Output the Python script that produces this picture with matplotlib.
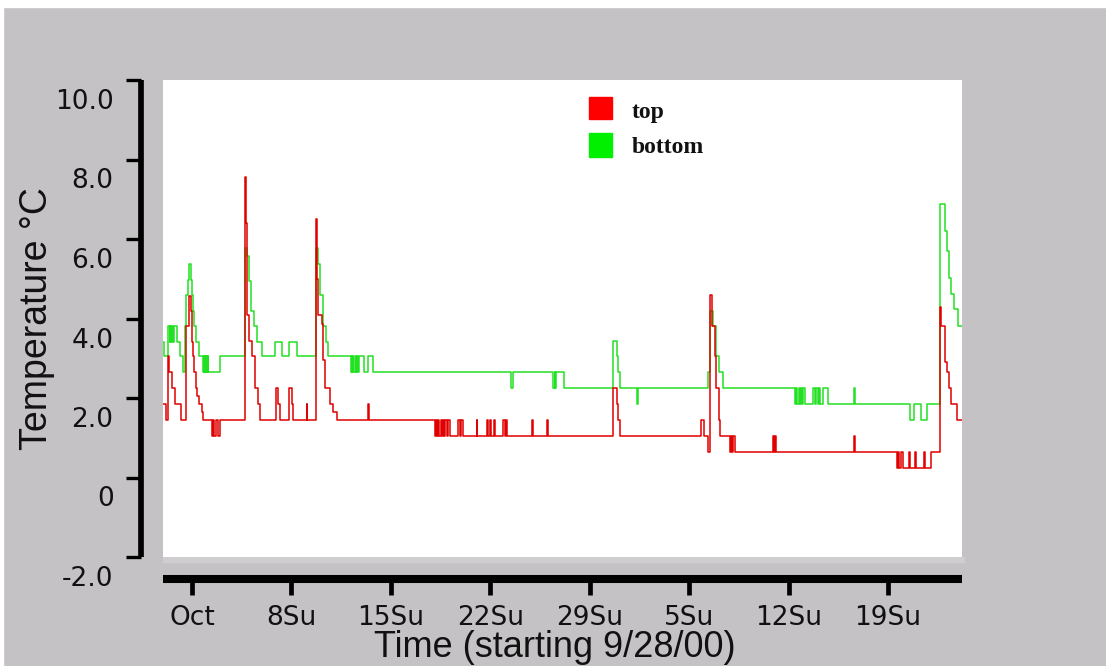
import matplotlib
matplotlib.use("Agg")
import matplotlib.pyplot as plt
from matplotlib.patches import Rectangle
import matplotlib.transforms as mtransforms

# ---------------- data (days since 9/28/00, temperature in degC) ----------------
bottom_days = [0.96, 1.03, 1.33, 1.42, 1.47, 1.55, 1.60, 1.68, 1.74, 1.92, 2.15, 2.34,
               2.51, 2.60, 2.70, 2.81, 2.93, 3.00, 3.07, 3.14, 3.26, 3.50, 3.80, 3.84,
               3.88, 3.92, 3.96, 4.00, 4.04, 4.10, 4.14, 4.97, 6.73, 6.88, 7.00, 7.18,
               7.36, 7.55, 7.92, 8.85, 9.31, 9.85, 10.42, 11.74, 11.88, 12.04, 12.22,
               12.46, 12.60, 14.17, 14.24, 14.30, 14.36, 14.44, 14.52, 14.58, 14.64,
               14.71, 14.78, 15.11, 15.42, 15.72, 25.46, 25.58, 28.45, 28.53, 28.58,
               28.65, 29.20, 32.67, 32.91, 33.02, 33.14, 34.31, 34.43, 39.36, 39.48,
               39.71, 39.90, 40.07, 40.37, 45.47, 45.55, 45.62, 45.70, 45.80, 45.88,
               45.95, 46.05, 46.17, 46.75, 46.85, 46.95, 47.05, 47.15, 47.22, 47.40,
               47.75, 49.62, 49.66, 53.52, 53.80, 54.31, 54.74, 55.68, 55.98, 56.15,
               56.26, 56.45, 56.62, 56.92, 57.21]
bottom_vals = [3.42, 3.05, 3.81, 3.42, 3.81, 3.42, 3.81, 3.42, 3.81, 3.42, 3.05, 2.65,
               3.81, 4.58, 4.97, 5.36, 4.97, 4.58, 4.20, 3.81, 3.42, 3.05, 2.65, 3.05,
               2.65, 3.05, 2.65, 3.05, 2.65, 3.05, 2.65, 3.05, 5.78, 5.56, 4.94, 4.20,
               3.81, 3.42, 3.05, 3.42, 3.05, 3.42, 3.05, 5.78, 5.36, 4.58, 3.81,
               3.42, 3.05, 2.65, 3.05, 2.65, 3.05, 2.65, 3.05, 2.65, 3.05,
               2.65, 3.05, 2.65, 3.05, 2.65, 2.25, 2.65, 2.25, 2.65, 2.25,
               2.65, 2.25, 3.43, 3.05, 2.65, 2.25, 1.85, 2.25, 2.65, 4.20,
               3.82, 3.05, 2.65, 2.25, 1.85, 2.25, 1.85, 2.25, 1.85, 2.25,
               1.85, 2.25, 1.85, 2.25, 1.85, 2.25, 1.85, 2.25, 1.85, 2.25,
               1.85, 2.25, 1.85, 1.45, 1.85, 1.45, 1.85, 6.87, 6.19, 5.69,
               5.03, 4.61, 4.24, 3.82, 3.82]

top_days = [0.96, 1.17, 1.33, 1.40, 1.57, 1.80, 2.20, 2.58, 2.80, 2.90, 2.98, 3.05,
            3.12, 3.28, 3.38, 3.52, 3.68, 3.80, 4.40, 4.50, 4.58, 4.70, 4.80, 4.97,
            6.73, 6.78, 6.86, 6.90, 7.04, 7.20, 7.44, 7.67, 7.79, 8.92, 9.08, 9.20,
            9.85, 10.02, 10.14, 11.08, 11.12, 11.74, 11.82, 11.90, 12.13, 12.25,
            12.37, 12.72, 12.95, 13.19, 15.42, 15.47, 20.11, 20.18, 20.26, 20.34,
            20.42, 20.50, 20.58, 20.66, 20.74, 20.84, 20.94, 21.05, 21.17, 21.76,
            21.85, 21.95, 22.11, 23.05, 23.10, 23.75, 23.85, 23.95, 24.05, 24.25,
            24.34, 24.93, 25.02, 25.10, 25.16, 26.92, 26.98, 27.98, 28.09, 32.67,
            32.91, 33.02, 33.14, 38.82, 39.06, 39.36, 39.48, 39.64, 39.79, 39.90,
            40.07, 40.18, 40.89, 40.95, 41.02, 41.10, 41.24, 43.89, 43.95, 44.07,
            44.13, 49.62, 49.66, 52.63, 52.72, 52.78, 52.95, 53.05, 53.45, 53.55,
            53.90, 54.00, 54.50, 54.60, 55.00, 55.68, 55.76, 55.98, 56.15, 56.26,
            56.45, 56.85, 57.21]
top_vals = [1.85, 1.45, 3.05, 2.65, 2.25, 1.85, 1.45, 3.81, 4.56, 4.20, 3.42, 3.05,
            2.65, 2.25, 2.05, 1.85, 1.65, 1.45, 1.05, 1.45, 1.05, 1.45, 1.05, 1.45,
            7.57, 6.40, 5.50, 4.10, 3.43, 3.05, 2.25, 1.85, 1.45, 2.25, 1.85, 1.45,
            2.25, 1.85, 1.45, 1.85, 1.45, 6.50, 5.00, 4.10, 3.85, 2.95,
            2.25, 1.85, 1.65, 1.45, 1.85, 1.45, 1.05, 1.45, 1.05, 1.45,
            1.05, 1.45, 1.05, 1.45, 1.05, 1.45, 1.05, 1.45, 1.05, 1.45,
            1.05, 1.45, 1.05, 1.45, 1.05, 1.45, 1.05, 1.45, 1.05, 1.45,
            1.05, 1.45, 1.05, 1.45, 1.05, 1.45, 1.05, 1.45, 1.05, 2.25,
            1.85, 1.45, 1.05, 1.45, 1.05, 0.63, 4.60, 3.82, 3.05, 2.25,
            1.45, 1.05, 0.63, 1.05, 0.63, 1.05, 0.63, 1.05, 0.63, 1.05,
            0.63, 1.05, 0.63, 0.23, 0.63, 0.23, 0.63, 0.23, 0.63, 0.23,
            0.63, 0.23, 0.63, 0.23, 0.63, 4.30, 3.82, 2.90, 2.65, 2.25,
            1.85, 1.45, 1.45]

tick_days = [3, 10, 17, 24, 31, 38, 45, 52]
tick_labels = ["Oct", "8Su", "15Su", "22Su", "29Su", "5Su", "12Su", "19Su"]
ytick_vals = [-2, 0, 2, 4, 6, 8, 10]
ytick_labels = ["-2.0", "0", "2.0", "4.0", "6.0", "8.0", "10.0"]
series_names = ["top", "bottom"]
series_colors = ["#e00000", "#22e022"]
legend_colors = ["#ff0000", "#00f000"]

# ---------------- figure ----------------
W, H = 1106, 666
BG = "#c5c2c6"
fig = plt.figure(figsize=(W / 100, H / 100), dpi=100, facecolor=BG)


def fx(px):
    return px / W


def fy(py):
    return 1 - py / H


# white strips at the top/left edge and light strip under the plot
fig.add_artist(Rectangle((0, fy(7)), 1, 1 - fy(7), transform=fig.transFigure,
                         color="white", zorder=-5))
fig.add_artist(Rectangle((0, 0), fx(3), 1, transform=fig.transFigure,
                         color="white", zorder=-5))
fig.add_artist(Rectangle((fx(163), fy(562)), fx(964) - fx(163), fy(557) - fy(562),
                         transform=fig.transFigure, color="#d0cdd1", zorder=-4))

ax = fig.add_axes([fx(163), fy(557), fx(962) - fx(163), fy(80) - fy(557)])
ax.set_facecolor("white")

ax.step(bottom_days, bottom_vals, where="post", color=series_colors[1], lw=1.1)
ax.step(top_days, top_vals, where="post", color=series_colors[0], lw=1.1)

ax.set_xlim(0.96, 57.21)
ax.set_ylim(-2, 10)

for s in ("top", "right"):
    ax.spines[s].set_visible(False)
ax.spines["left"].set_position(("outward", 15.8))
ax.spines["bottom"].set_position(("outward", 15.8))
ax.spines["left"].set_linewidth(4.1)
ax.spines["bottom"].set_linewidth(5.8)
ax.spines["left"].set_capstyle("butt")
ax.spines["bottom"].set_capstyle("butt")

ax.set_xticks(tick_days)
ax.set_xticklabels(tick_labels)
ax.set_yticks(ytick_vals)
ax.set_yticklabels(ytick_labels)
ax.tick_params(axis="y", direction="out", length=10.8, width=2.4, pad=9,
               labelsize=19, colors="black", labelcolor="#111111")
ax.tick_params(axis="x", direction="out", length=11.5, width=3.4, pad=7,
               labelsize=19, colors="black", labelcolor="#111111")

offset = mtransforms.ScaledTranslation(0, -0.19, fig.dpi_scale_trans)
for lab in ax.get_yticklabels():
    lab.set_transform(lab.get_transform() + offset)

fig.text(fx(555), fy(657), "Time (starting 9/28/00)", ha="center", va="baseline",
         fontsize=26, family="Liberation Sans", color="#111111")
fig.text(fx(37), fy(319), "Temperature \u00b0C", ha="center", va="center", rotation=90,
         fontsize=27, family="Liberation Sans", color="#111111")

# legend
leg_y = [(97, 119, 118), (133, 157, 153)]
for name, col, (top_px, bot_px, base_px) in zip(series_names, legend_colors, leg_y):
    fig.add_artist(Rectangle((fx(589), fy(bot_px)), fx(612) - fx(589), fy(top_px) - fy(bot_px),
                             transform=fig.transFigure, color=col))
    fig.text(fx(632), fy(base_px), name, ha="left", va="baseline", fontsize=17,
             family="Liberation Serif", weight="bold", color="#111111")

fig.savefig("out.png", dpi=100, facecolor=fig.get_facecolor())
